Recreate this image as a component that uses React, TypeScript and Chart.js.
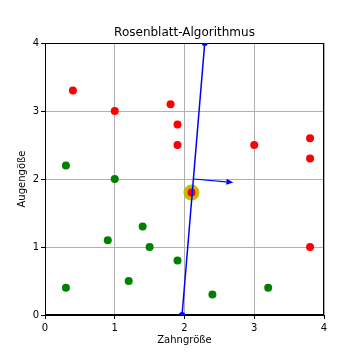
import React, { useEffect, useRef } from "react";
import { Chart, registerables } from "chart.js";
Chart.register(...registerables);

const titleText = "Rosenblatt-Algorithmus";
const xLabel = "Zahngröße";
const yLabel = "Augengöße";

const redX = [0.4, 1.0, 1.8, 1.9, 1.9, 3.0, 3.8, 3.8, 3.8, 2.1];
const redY = [3.3, 3.0, 3.1, 2.8, 2.5, 2.5, 2.6, 2.3, 1.0, 1.8];
const greenX = [0.3, 1.0, 0.9, 1.4, 1.5, 1.2, 0.3, 1.9, 2.4, 3.2];
const greenY = [2.2, 2.0, 1.1, 1.3, 1.0, 0.5, 0.4, 0.8, 0.3, 0.4];
const highlightX = [2.1];
const highlightY = [1.8];
const lineX = [1.965, 2.29];
const lineY = [0, 4];
const arrowX = [2.13, 2.7];
const arrowY = [2.0, 1.95];
const tickMin = 0;
const tickMax = 4;

const FONT = "'DejaVu Sans', sans-serif";

const zip = (xs: number[], ys: number[]) => xs.map((x, i) => ({ x, y: ys[i] }));

export default function App() {
  const ref = useRef<HTMLCanvasElement | null>(null);
  useEffect(() => {
    if (!ref.current) return;
    const extras = {
      id: "extras",
      beforeDatasetsDraw(chart: any) {
        const { ctx, chartArea: a } = chart;
        ctx.save();
        ctx.strokeStyle = "#000";
        ctx.lineWidth = 1;
        ctx.strokeRect(Math.round(a.left) + 0.5, Math.round(a.top) + 0.5, Math.round(a.right - a.left) - 1, Math.round(a.bottom - a.top) - 1);
        ctx.restore();
      },
      afterDatasetsDraw(chart: any) {
        const { ctx, scales } = chart;
        const x0 = scales.x.getPixelForValue(arrowX[0]);
        const y0 = scales.y.getPixelForValue(arrowY[0]);
        const x1 = scales.x.getPixelForValue(arrowX[1]);
        const y1 = scales.y.getPixelForValue(arrowY[1]);
        const ang = Math.atan2(y1 - y0, x1 - x0);
        const hl = 7, hw = 3;
        ctx.save();
        ctx.strokeStyle = "#0000ff";
        ctx.fillStyle = "#0000ff";
        ctx.lineWidth = 1.2;
        ctx.beginPath();
        ctx.moveTo(x0, y0);
        ctx.lineTo(x1 - hl * Math.cos(ang), y1 - hl * Math.sin(ang));
        ctx.stroke();
        ctx.beginPath();
        ctx.moveTo(x1, y1);
        ctx.lineTo(x1 - hl * Math.cos(ang) + hw * Math.sin(ang), y1 - hl * Math.sin(ang) - hw * Math.cos(ang));
        ctx.lineTo(x1 - hl * Math.cos(ang) - hw * Math.sin(ang), y1 - hl * Math.sin(ang) + hw * Math.cos(ang));
        ctx.closePath();
        ctx.fill();
        ctx.restore();
      },
      afterDraw(chart: any) {
        const { ctx, chartArea: a } = chart;
        ctx.save();
        ctx.fillStyle = "#000";
        ctx.font = `12px ${FONT}`;
        ctx.textAlign = "center";
        ctx.textBaseline = "middle";
        ctx.fillText(titleText, (a.left + a.right) / 2, 33);
        ctx.restore();
      },
    };
    const chart = new Chart(ref.current, {
      type: "scatter",
      data: {
        datasets: [
          {
            type: "line",
            data: zip(lineX, lineY),
            borderColor: "#0000ff",
            backgroundColor: "#0000ff",
            borderWidth: 1.5,
            pointRadius: 3,
            pointBorderWidth: 0,
            showLine: true,
          } as any,
          {
            data: zip(redX, redY),
            backgroundColor: "#ff0000",
            borderWidth: 0,
            pointRadius: 4,
          },
          {
            data: zip(highlightX, highlightY),
            backgroundColor: "#bfbf00",
            borderWidth: 0,
            pointRadius: 8,
          },
          {
            data: zip(greenX, greenY),
            backgroundColor: "#008000",
            borderWidth: 0,
            pointRadius: 4,
          },
        ],
      },
      plugins: [extras],
      options: {
        responsive: false,
        animation: false,
        layout: { padding: { top: 43, right: 36, left: 0, bottom: 0 } },
        plugins: { legend: { display: false }, tooltip: { enabled: false }, title: { display: false } },
        scales: {
          x: {
            type: "linear",
            min: tickMin,
            max: tickMax,
            ticks: { stepSize: 1, color: "#000", font: { family: FONT, size: 10 }, padding: 3 },
            grid: { color: "#b0b0b0", tickColor: "#000", tickLength: 4, lineWidth: 1 },
            border: { color: "#000", width: 1 },
            title: { display: true, text: xLabel, color: "#000", font: { family: FONT, size: 10 }, padding: { top: 0, bottom: 14 } },
            afterFit(scale: any) { scale.height = 45; },
          },
          y: {
            type: "linear",
            min: tickMin,
            max: tickMax,
            ticks: { stepSize: 1, color: "#000", font: { family: FONT, size: 10 }, padding: 2 },
            grid: { color: "#b0b0b0", tickColor: "#000", tickLength: 4, lineWidth: 1 },
            border: { color: "#000", width: 1 },
            title: { display: true, text: yLabel, color: "#000", font: { family: FONT, size: 10 }, padding: { top: 16, bottom: 0 } },
            afterFit(scale: any) { scale.width = 45; },
          },
        },
      } as any,
    });
    return () => chart.destroy();
  }, []);
  return (
    <div style={{ position: "fixed", left: 0, top: 0, width: 360, height: 360, background: "#fff" }}>
      <canvas ref={ref} width={360} height={360} style={{ width: 360, height: 360, display: "block" }} />
    </div>
  );
}
